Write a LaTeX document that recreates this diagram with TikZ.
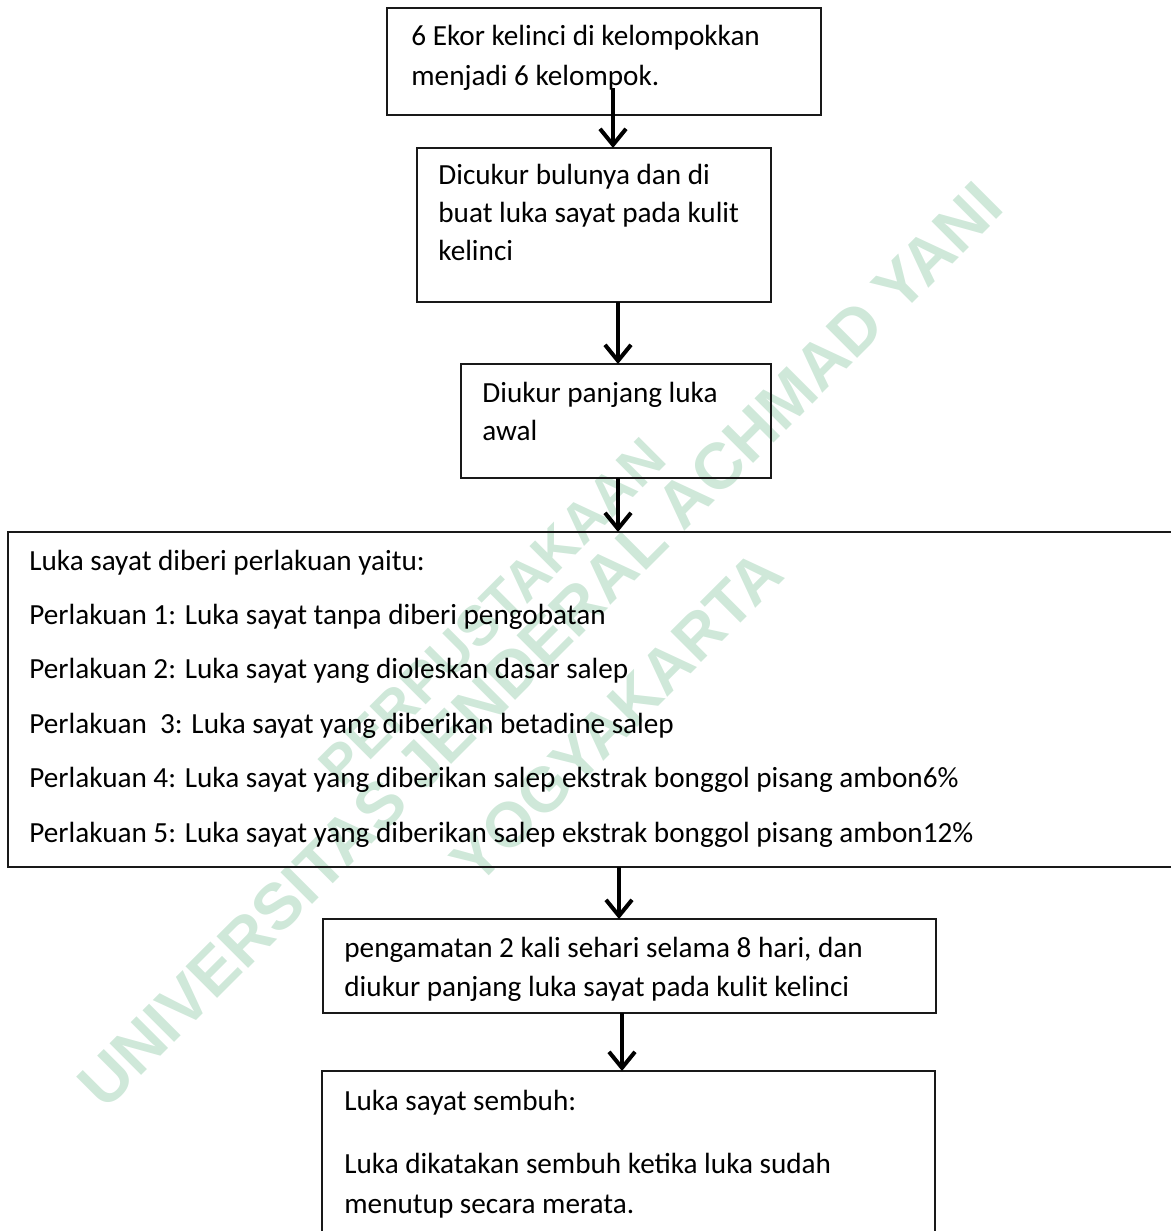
\documentclass[tikz,border=0pt]{standalone}
\usepackage{fontspec}
\setmainfont{Carlito}
\newfontfamily\wmfont{Liberation Sans}
\usetikzlibrary{arrows.meta}
\definecolor{wm}{RGB}{207,232,217}
\definecolor{edge}{RGB}{25,25,25}
\begin{document}
\begin{tikzpicture}[x=0.5pt,y=-0.5pt,
  box/.style={draw=edge, line width=0.65pt, anchor=north west, inner sep=0pt, outer sep=0pt},
  txt/.style={anchor=base west, inner sep=0pt, font=\fontsize{14.6pt}{18pt}\selectfont},
  wmtxt/.style={text=wm, font=\wmfont\bfseries\fontsize{#1}{36pt}\selectfont, rotate=45, inner sep=0pt},
  arr/.style={line width=2pt, -{Straight Barb[length=8pt,width=13pt]}}]
\useasboundingbox (0,0) rectangle (1171,1231);
% watermark
\node[wmtxt=28pt] (wm1) at (492,612) {PERPUSTAKAAN};
\node[wmtxt=32.5pt] (wm2) at (540,645) {UNIVERSITAS JENDERAL ACHMAD YANI};
\node[wmtxt=31.5pt] (wm3) at (617,717) {YOGYAKARTA};
% boxes
\node[box, minimum width=217pt, minimum height=53.5pt] (b1) at (387,8) {};
\node[box, minimum width=177pt, minimum height=77pt] (b2) at (417,148) {};
\node[box, minimum width=155pt, minimum height=57pt] (b3) at (461,364) {};
\node[box, minimum width=590pt, minimum height=167.5pt] (b4) at (8,532) {};
\node[box, minimum width=306.5pt, minimum height=47pt] (b5) at (323,919) {};
\node[box, minimum width=306.5pt, minimum height=90pt] (b6) at (322,1071) {};
% texts
\node[txt] (t1a) at (411,45) {6 Ekor kelinci di kelompokkan};
\node[txt] (t1b) at (411,85) {menjadi 6 kelompok.};
\node[txt] (t2a) at (438,184) {Dicukur bulunya dan di};
\node[txt] (t2b) at (438,222) {buat luka sayat pada kulit};
\node[txt] (t2c) at (438,260) {kelinci};
\node[txt] (t3a) at (482,402) {Diukur panjang luka};
\node[txt] (t3b) at (482,440) {awal};
\node[txt] (t4a) at (29,570) {Luka sayat diberi perlakuan yaitu:};
\node[txt] (t4b) at (29,624.4) {Perlakuan 1: Luka sayat tanpa diberi pengobatan};
\node[txt] (t4c) at (29,678.8) {Perlakuan 2: Luka sayat yang dioleskan dasar salep};
\node[txt] (t4d) at (29,733.2) {Perlakuan\ \ 3: Luka sayat yang diberikan betadine salep};
\node[txt] (t4e) at (29,787.6) {Perlakuan 4: Luka sayat yang diberikan salep ekstrak bonggol pisang ambon6\%};
\node[txt] (t4f) at (29,842) {Perlakuan 5: Luka sayat yang diberikan salep ekstrak bonggol pisang ambon12\%};
\node[txt] (t5a) at (344,957) {pengamatan 2 kali sehari selama 8 hari, dan};
\node[txt] (t5b) at (344,996) {diukur panjang luka sayat pada kulit kelinci};
\node[txt] (t6a) at (344,1110) {Luka sayat sembuh:};
\node[txt] (t6b) at (344,1173) {Luka dikatakan sembuh ketika luka sudah};
\node[txt] (t6c) at (344,1213) {menutup secara merata.};
% arrows
\coordinate (s1) at (613,88);
\coordinate (s2) at (618,0);
\coordinate (s3) at (618,0);
\coordinate (s4) at (619,0);
\coordinate (s5) at (622,0);
\draw[arr] (s1) -- (s1 |- b2.north);
\draw[arr] (s2 |- b2.south) -- (s2 |- b3.north);
\draw[arr] (s3 |- b3.south) -- (s3 |- b4.north);
\draw[arr] (s4 |- b4.south) -- (s4 |- b5.north);
\draw[arr] (s5 |- b5.south) -- (s5 |- b6.north);
\end{tikzpicture}
\end{document}
